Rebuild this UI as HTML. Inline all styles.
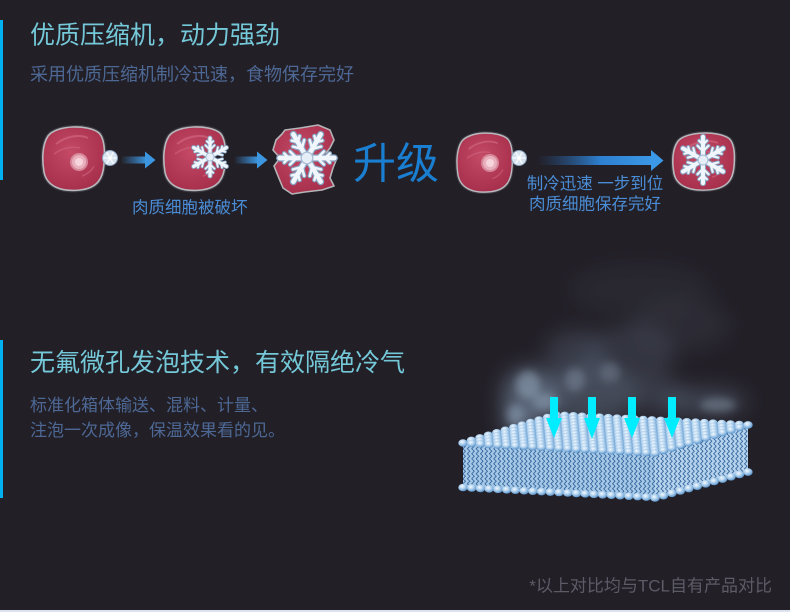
<!DOCTYPE html>
<html>
<head>
<meta charset="utf-8">
<style>
html,body{margin:0;padding:0;background:#221f27;}
body{width:790px;height:612px;overflow:hidden;}
svg{display:block;}
text{font-family:"Liberation Sans","Noto Sans CJK SC",sans-serif;}
</style>
</head>
<body>
<svg width="790" height="612" viewBox="0 0 790 612" xmlns="http://www.w3.org/2000/svg">
<defs>
  <radialGradient id="cg" cx="0.45" cy="0.4" r="0.65">
    <stop offset="0" stop-color="#c44a66"/>
    <stop offset="1" stop-color="#a52e4a"/>
  </radialGradient>
  <radialGradient id="bg" cx="0.4" cy="0.35" r="0.7">
    <stop offset="0" stop-color="#f4faff"/>
    <stop offset="0.45" stop-color="#b2d2ee"/>
    <stop offset="1" stop-color="#4f8cc6"/>
  </radialGradient>
  <linearGradient id="sa" x1="0" y1="0" x2="1" y2="0">
    <stop offset="0" stop-color="#3d96e0" stop-opacity="0.05"/>
    <stop offset="1" stop-color="#3d96e0"/>
  </linearGradient>
  <linearGradient id="ba" x1="537" y1="0" x2="652" y2="0" gradientUnits="userSpaceOnUse">
    <stop offset="0" stop-color="#2a5fa0" stop-opacity="0"/>
    <stop offset="0.55" stop-color="#2d80cf"/>
    <stop offset="1" stop-color="#3b98e6"/>
  </linearGradient>
  <pattern id="wv" width="4.4" height="5" patternUnits="userSpaceOnUse">
    <path d="M2.2 0 L3.4 1.25 L1 3.75 L2.2 5" stroke="#2a5d95" stroke-width="0.9" fill="none"/>
  </pattern>
  <filter id="blur" x="-50%" y="-50%" width="200%" height="200%">
    <feGaussianBlur stdDeviation="10"/>
  </filter>
  <filter id="blur2" x="-50%" y="-50%" width="200%" height="200%">
    <feGaussianBlur stdDeviation="4"/>
  </filter>

  <path id="cellp" d="M -26,-22 C -18,-33 14,-34 25,-25 C 31,-19 31,-6 30,6 C 29,20 24,30 6,32 C -12,34 -27,29 -30,14 C -32,2 -32,-13 -26,-22 Z"/>
  <g id="cell">
    <use href="#cellp" fill="none" stroke="#3c3a42" stroke-width="4"/>
    <use href="#cellp" fill="url(#cg)" stroke="#b8b8bd" stroke-width="1.6"/>
    <path d="M-18 -14 C -8 -22 6 -24 14 -20" stroke="#d36c87" stroke-width="2" fill="none" opacity=".6"/>
    <path d="M-20 -4 C -12 -10 -2 -12 6 -10" stroke="#d36c87" stroke-width="1.5" fill="none" opacity=".5"/>
    <path d="M8 18 C 14 16 18 12 20 8" stroke="#d36c87" stroke-width="1.5" fill="none" opacity=".5"/>
  </g>
  <g id="nuc">
    <circle r="9" fill="#d6889a"/>
    <circle r="7" fill="#e9b0bd"/>
    <circle r="4" fill="#f6d5dc"/>
  </g>

  <path id="am" d="M0 0 L21 0"/>
  <path id="ab" d="M8 0 L13 -5 M8 0 L13 5 M14 0 L17.5 -3.5 M14 0 L17.5 3.5"/>
  <g id="mains">
    <use href="#am"/>
    <use href="#am" transform="rotate(60)"/>
    <use href="#am" transform="rotate(120)"/>
    <use href="#am" transform="rotate(180)"/>
    <use href="#am" transform="rotate(240)"/>
    <use href="#am" transform="rotate(300)"/>
  </g>
  <g id="brs">
    <use href="#ab"/>
    <use href="#ab" transform="rotate(60)"/>
    <use href="#ab" transform="rotate(120)"/>
    <use href="#ab" transform="rotate(180)"/>
    <use href="#ab" transform="rotate(240)"/>
    <use href="#ab" transform="rotate(300)"/>
  </g>
  <g id="flake" fill="none" stroke-linecap="round" stroke-linejoin="round">
    <use href="#mains" stroke="#86a3c2" stroke-width="5.5"/>
    <use href="#brs" stroke="#86a3c2" stroke-width="3.6"/>
    <use href="#mains" stroke="#f0f6fc" stroke-width="3.6"/>
    <use href="#brs" stroke="#f0f6fc" stroke-width="1.9"/>
    <circle r="4.5" fill="#e6eff8" stroke="#a8bdd4" stroke-width="1"/>
  </g>
  <g id="sflake">
    <circle r="7.5" fill="#d7e3ef" stroke="#8ea5be" stroke-width="1"/>
    <g stroke="#f4f8fc" stroke-width="1.6" stroke-linecap="round">
      <path d="M-6 0 L6 0 M-3 -5.2 L3 5.2 M3 -5.2 L-3 5.2"/>
    </g>
    <circle r="1.8" fill="#ffffff"/>
  </g>

  <ellipse id="ball" rx="4.7" ry="3.8" fill="url(#bg)"/>
  <g id="brow">
    <use href="#ball" x="0" y="0"/>
    <use href="#ball" x="8.73" y="0.46"/>
    <use href="#ball" x="17.46" y="0.91"/>
    <use href="#ball" x="26.19" y="1.37"/>
    <use href="#ball" x="34.92" y="1.82"/>
    <use href="#ball" x="43.65" y="2.28"/>
    <use href="#ball" x="52.38" y="2.73"/>
    <use href="#ball" x="61.11" y="3.19"/>
    <use href="#ball" x="69.84" y="3.64"/>
    <use href="#ball" x="78.57" y="4.1"/>
    <use href="#ball" x="87.3" y="4.55"/>
    <use href="#ball" x="96.03" y="5.0"/>
    <use href="#ball" x="104.76" y="5.46"/>
    <use href="#ball" x="113.49" y="5.92"/>
    <use href="#ball" x="122.22" y="6.37"/>
    <use href="#ball" x="130.95" y="6.83"/>
    <use href="#ball" x="139.68" y="7.28"/>
    <use href="#ball" x="148.41" y="7.74"/>
    <use href="#ball" x="157.14" y="8.19"/>
    <use href="#ball" x="165.87" y="8.65"/>
    <use href="#ball" x="174.6" y="9.1"/>
    <use href="#ball" x="183.33" y="9.56"/>
    <use href="#ball" x="192.06" y="10.0"/>
  </g>
  <g id="rrow">
    <use href="#ball" x="0" y="0"/>
    <use href="#ball" x="8.45" y="-2.36"/>
    <use href="#ball" x="16.9" y="-4.72"/>
    <use href="#ball" x="25.35" y="-7.08"/>
    <use href="#ball" x="33.8" y="-9.44"/>
    <use href="#ball" x="42.25" y="-11.8"/>
    <use href="#ball" x="50.7" y="-14.16"/>
    <use href="#ball" x="59.15" y="-16.52"/>
    <use href="#ball" x="67.6" y="-18.88"/>
    <use href="#ball" x="76.05" y="-21.24"/>
    <use href="#ball" x="84.5" y="-23.6"/>
    <use href="#ball" x="92.95" y="-25.96"/>
  </g>
</defs>

<rect x="0" y="0" width="790" height="612" fill="#221f27"/>

<rect x="0" y="20" width="3" height="160" fill="#00b0ef"/>
<rect x="0" y="340" width="3" height="158" fill="#00b0ef"/>

<text x="30" y="43.5" font-size="25" fill="#74c8d8">优质压缩机，动力强劲</text>
<text x="30" y="80.5" font-size="18" fill="#4d6894">采用优质压缩机制冷迅速，食物保存完好</text>

<!-- Cell 1 -->
<use href="#cell" transform="translate(74,158)"/>
<use href="#nuc" transform="translate(79,162)"/>
<use href="#sflake" transform="translate(110,158)"/>

<rect x="122" y="156.5" width="25" height="7" fill="url(#sa)"/>
<polygon points="145,151.5 155.5,160 145,168.5" fill="#3d96e0"/>

<!-- Cell 2 -->
<use href="#cell" transform="translate(195,158)"/>
<circle cx="226" cy="158" r="11" fill="#221f27"/>
<use href="#flake" transform="translate(210,157) rotate(90) scale(0.9)"/>

<rect x="235" y="156.5" width="23" height="7" fill="url(#sa)"/>
<polygon points="257,151.5 267.5,160 257,168.5" fill="#3d96e0"/>

<!-- Cell 3 (broken) -->
<polygon points="285,130 300,128 318,125 330,130 334,140 330,148 326,153 337,158 333,168 330,178 334,186 322,190 305,192 292,194 283,188 278,176 274,166 280,158 273,150 276,140 282,134" fill="url(#cg)" stroke="#b4b4b8" stroke-width="1.6" stroke-linejoin="round"/>
<use href="#flake" transform="translate(307,158) scale(1.3)"/>

<text x="353" y="178.5" font-size="43" fill="#1a7fd0">升级</text>

<text x="132" y="213" font-size="16.5" fill="#4a8dd6">肉质细胞被破坏</text>

<!-- Cell 4 -->
<use href="#cell" transform="translate(485,162) scale(0.9,0.93)"/>
<use href="#nuc" transform="translate(490,163)"/>
<use href="#sflake" transform="translate(519,158)"/>

<rect x="537" y="156" width="116" height="9" fill="url(#ba)"/>
<polygon points="651,150 663.5,160.5 651,171" fill="#3b98e6"/>

<!-- Cell 5 -->
<use href="#cell" transform="translate(704,161) scale(1,0.9)"/>
<use href="#flake" transform="translate(703,160) rotate(90) scale(1.1)"/>

<text x="595" y="189" font-size="16.5" fill="#4a8dd6" text-anchor="middle">制冷迅速 一步到位</text>
<text x="595" y="209.5" font-size="16.5" fill="#4a8dd6" text-anchor="middle">肉质细胞保存完好</text>

<text x="30" y="371" font-size="25" fill="#74c8d8">无氟微孔发泡技术，有效隔绝冷气</text>
<text x="30" y="411" font-size="17" fill="#4d6894">标准化箱体输送、混料、计量、</text>
<text x="30" y="436" font-size="17" fill="#4d6894">注泡一次成像，保温效果看的见。</text>

<!-- smoke -->
<g filter="url(#blur)" fill="#7f95b0">
  <ellipse cx="640" cy="290" rx="70" ry="25" opacity="0.07"/>
  <ellipse cx="680" cy="325" rx="50" ry="25" opacity="0.1"/>
  <ellipse cx="630" cy="355" rx="45" ry="30" opacity="0.18"/>
  <ellipse cx="575" cy="355" rx="30" ry="25" opacity="0.22"/>
  <ellipse cx="590" cy="395" rx="50" ry="28" opacity="0.35"/>
  <ellipse cx="530" cy="395" rx="28" ry="28" opacity="0.5"/>
  <ellipse cx="520" cy="420" rx="18" ry="16" opacity="0.5"/>
  <ellipse cx="705" cy="402" rx="42" ry="14" opacity="0.3"/>
  <ellipse cx="660" cy="395" rx="25" ry="18" opacity="0.22"/>
</g>
<g filter="url(#blur2)" fill="#a2b6cc">
  <ellipse cx="528" cy="385" rx="12" ry="14" opacity="0.45"/>
  <ellipse cx="545" cy="402" rx="12" ry="9" opacity="0.4"/>
  <ellipse cx="575" cy="380" rx="10" ry="12" opacity="0.3"/>
  <ellipse cx="610" cy="372" rx="10" ry="10" opacity="0.25"/>
  <ellipse cx="718" cy="405" rx="18" ry="7" opacity="0.35"/>
  <ellipse cx="515" cy="415" rx="8" ry="10" opacity="0.4"/>
</g>

<!-- membrane slab -->
<polygon points="463,443 655,453 655,498 463,487" fill="#a7c9e8"/>
<polygon points="463,443 655,453 655,498 463,487" fill="url(#wv)"/>
<polygon points="655,453 748,425 748,472 655,498" fill="#b6d3ee"/>
<polygon points="655,453 748,425 748,472 655,498" fill="url(#wv)"/>
<polygon points="463,443 556,415 748,425 655,453" fill="#7fb0de"/>

<use href="#brow" transform="translate(555.95,414.95)"/>
<use href="#brow" transform="translate(547.5,417.5)"/>
<use href="#brow" transform="translate(539.05,420.05)"/>
<use href="#brow" transform="translate(530.6,422.6)"/>
<use href="#brow" transform="translate(522.15,425.15)"/>
<use href="#brow" transform="translate(513.7,427.7)"/>
<use href="#brow" transform="translate(505.25,430.25)"/>
<use href="#brow" transform="translate(496.8,432.8)"/>
<use href="#brow" transform="translate(488.35,435.35)"/>
<use href="#brow" transform="translate(479.9,437.9)"/>
<use href="#brow" transform="translate(471.45,440.45)"/>
<use href="#brow" transform="translate(463,443)"/>

<use href="#brow" transform="translate(463,487.5)"/>
<use href="#rrow" transform="translate(655,498)"/>

<g fill="#00ecff">
  <rect x="550" y="397" width="8" height="22"/>
  <polygon points="546,418 562,418 554,438"/>
  <rect x="588" y="397" width="8" height="22"/>
  <polygon points="584,418 600,418 592,439"/>
  <rect x="628" y="397" width="8" height="22"/>
  <polygon points="624,418 640,418 632,438"/>
  <rect x="668" y="397" width="8" height="22"/>
  <polygon points="664,418 680,418 672,438"/>
</g>

<text x="772" y="591.5" font-size="17" fill="#5c5b66" text-anchor="end">*以上对比均与TCL自有产品对比</text>

<rect x="0" y="610" width="790" height="2" fill="#dde3ec"/>
</svg>
</body>
</html>
